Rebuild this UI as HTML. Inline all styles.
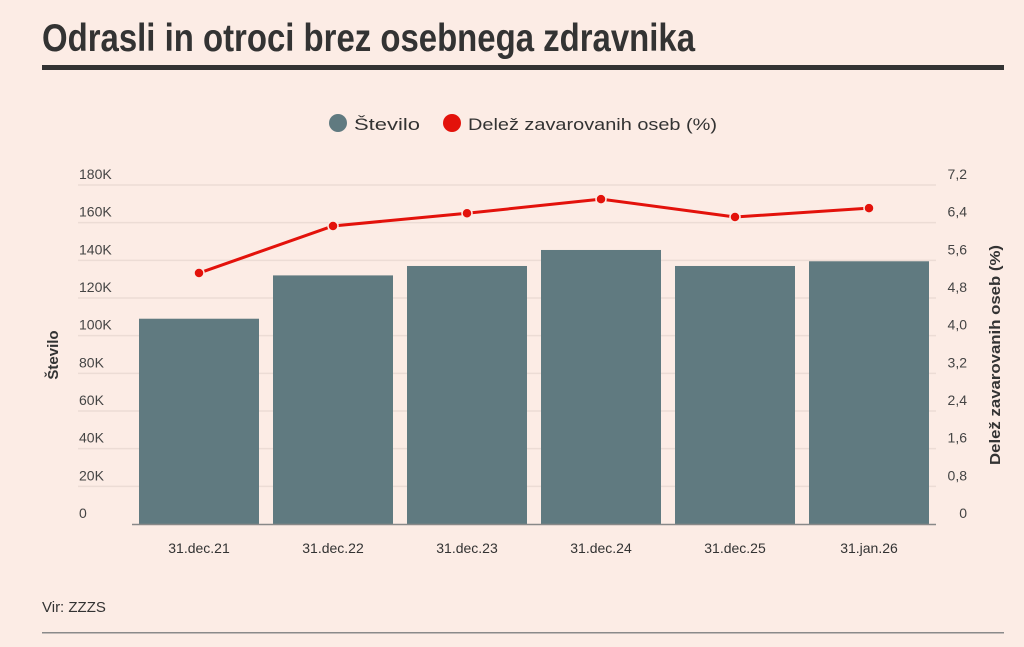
<!DOCTYPE html>
<html><head><meta charset="utf-8"><style>
html,body{margin:0;padding:0;background:#fcece5;}
svg{display:block;font-family:"Liberation Sans",sans-serif;}
</style></head><body>
<svg id="chart" width="1024" height="647" viewBox="0 0 1024 647">
<rect x="0" y="0" width="1024" height="647" fill="#fcece5"/>
<text x="42" y="51" font-size="39" font-weight="bold" fill="#333" textLength="653" lengthAdjust="spacingAndGlyphs">Odrasli in otroci brez osebnega zdravnika</text>
<rect x="42" y="65" width="962" height="5" fill="#333"/>
<g>
<g><circle cx="338" cy="123" r="9" fill="#607a80"/><text x="354" y="130" font-size="17" fill="#333" textLength="66" lengthAdjust="spacingAndGlyphs">Število</text></g>
<g><circle cx="452" cy="123" r="9" fill="#e3120b"/><text x="468" y="130" font-size="17" fill="#333" textLength="249" lengthAdjust="spacingAndGlyphs">Delež zavarovanih oseb (%)</text></g>
</g>
<g id="grid"></g><g id="bars"></g><g id="line"></g><g id="axes"></g>
<text transform="translate(58,355) rotate(-90)" text-anchor="middle" font-size="15" font-weight="bold" fill="#333">Število</text>
<text transform="translate(1000,355) rotate(-90)" text-anchor="middle" font-size="15" font-weight="bold" fill="#333" textLength="220" lengthAdjust="spacingAndGlyphs">Delež zavarovanih oseb (%)</text>
<text x="42" y="612" font-size="15" fill="#333">Vir: ZZZS</text>
<rect x="42" y="632" width="962" height="1.5" fill="#8a8a8a"/>
</svg>
<script>
const categories = ["31.dec.21","31.dec.22","31.dec.23","31.dec.24","31.dec.25","31.jan.26"];
const countValues = [109000,132000,137000,145500,137000,139500];
const shareValues = [5.33,6.33,6.6,6.9,6.52,6.71];
const leftTicks = [0,20000,40000,60000,80000,100000,120000,140000,160000,180000];
const leftTickLabels = ["0","20K","40K","60K","80K","100K","120K","140K","160K","180K"];
const rightTicks = [0,0.8,1.6,2.4,3.2,4.0,4.8,5.6,6.4,7.2];
const rightTickLabels = ["0","0,8","1,6","2,4","3,2","4,0","4,8","5,6","6,4","7,2"];

const NS="http://www.w3.org/2000/svg";
const X0=132,X1=936,Y0=524,Y1=185;
const band=(X1-X0)/categories.length;
function xC(i){return X0+band*(i+0.5);}
function yL(v){return Y0-(v/180000)*(Y0-Y1);}
function yR(v){return Y0-(v/7.2)*(Y0-Y1);}
function mk(tag,attrs,parent){const e=document.createElementNS(NS,tag);for(const k in attrs)e.setAttribute(k,attrs[k]);parent.appendChild(e);return e;}
const grid=document.getElementById('grid'),bars=document.getElementById('bars'),line=document.getElementById('line'),axes=document.getElementById('axes');
leftTicks.forEach((t,i)=>{
  const y=yL(t);
  if(i>0){const g=mk('line',{x1:78,x2:936,y1:y,y2:y,stroke:'#ecdcd5','stroke-width':1.5},grid);
  
  }
  const tx=mk('text',{x:79,y:y-6,'font-size':14,fill:'#444'},axes);tx.textContent=leftTickLabels[i];
  
  
});
rightTicks.forEach((t,i)=>{
  const tx=mk('text',{x:967,y:yR(t)-6,'font-size':14,fill:'#444','text-anchor':'end'},axes);tx.textContent=rightTickLabels[i];
  
  
});
categories.forEach((c,i)=>{
  const h=Y0-yL(countValues[i]);
  const r=mk('rect',{x:xC(i)-60,y:yL(countValues[i]),width:120,height:h,fill:'#607a80'},bars);
  
  
  const tx=mk('text',{x:xC(i),y:553,'font-size':14,fill:'#333','text-anchor':'middle'},axes);tx.textContent=c;
  
  
});
const base=mk('line',{x1:X0,x2:X1,y1:Y0+0.5,y2:Y0+0.5,stroke:'#888','stroke-width':1.5},axes);


const pts=shareValues.map((v,i)=>xC(i)+','+yR(v)).join(' ');
const pl=mk('polyline',{points:pts,fill:'none',stroke:'#e3120b','stroke-width':3,'stroke-linejoin':'round'},line);


shareValues.forEach((v,i)=>{
  const c=mk('circle',{cx:xC(i),cy:yR(v),r:5,fill:'#e3120b',stroke:'#fcece5','stroke-width':1.5},line);
  
  
});
</script>
</body></html>
